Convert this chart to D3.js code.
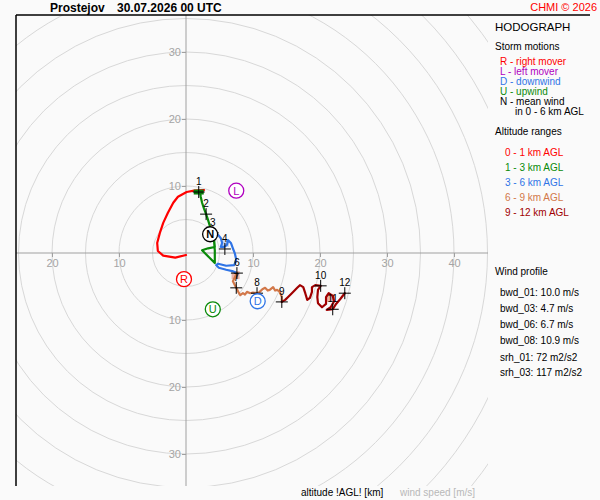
<!DOCTYPE html>
<html><head><meta charset="utf-8">
<script src="https://cdn.jsdelivr.net/npm/d3@7"></script>
<style>
html,body{margin:0;padding:0;background:#fafafa;}
svg{display:block;font-family:"Liberation Sans",Arial,sans-serif;}
</style></head>
<body>
<svg id="c" width="600" height="500"></svg>
<script>
// ---------- data (wind components u, v in m/s) ----------
const seg01 = [[0.0,-0.3],[-1.6,-0.7],[-3.4,-0.4],[-4.2,0.3],[-4.3,1.5],[-3.9,3.0],[-3.4,4.5],[-2.7,6.0],[-1.9,7.5],[-1.2,8.4],[0.1,9.1],[1.2,9.3],[2.7,9.4],[1.9,9.1]];
const seg13 = [[2.1,9.1],[2.2,8.4],[2.4,7.5],[2.7,6.6],[3.0,5.8],[3.3,4.9],[3.6,3.9],[3.9,2.8],[4.2,1.6],[4.3,0.4],[4.3,-0.6],[4.3,-1.5],[3.4,-0.6],[2.4,0.4],[3.3,0.7],[4.3,0.9],[4.2,1.9],[4.0,3.0]];
const seg36 = [[4.0,3.0],[4.8,2.7],[5.2,2.2],[5.4,1.5],[5.2,0.9],[5.7,0.9],[6.1,1.2],[6.3,1.9],[6.7,1.5],[7.0,0.7],[7.3,-0.1],[7.5,-1.0],[7.2,-1.8],[6.0,-1.9],[4.8,-1.6],[4.5,-1.8],[4.9,-2.2],[6.0,-2.5],[6.9,-2.7],[7.6,-3.0]];
const seg69 = [[7.6,-3.0],[7.3,-3.6],[7.0,-4.2],[7.3,-4.8],[7.5,-5.2],[7.8,-5.8],[8.1,-6.3],[8.5,-6.0],[8.8,-6.2],[9.1,-5.8],[9.6,-6.0],[10.0,-5.9],[10.6,-6.0],[11.0,-5.8],[11.4,-5.4],[11.8,-5.2],[12.2,-5.6],[12.5,-5.5],[13.0,-5.1],[13.3,-5.6],[13.6,-5.5],[14.0,-5.8],[14.3,-6.6],[14.3,-7.3]];
const seg912 = [[14.3,-7.3],[14.8,-7.0],[15.2,-6.6],[15.8,-6.0],[16.6,-5.2],[17.0,-4.8],[17.5,-5.1],[17.8,-6.0],[18.1,-7.0],[18.5,-6.7],[18.8,-5.8],[18.8,-5.1],[19.3,-4.8],[20.1,-4.9],[19.7,-5.5],[19.6,-6.6],[19.7,-7.5],[20.3,-8.1],[20.9,-7.6],[20.9,-6.6],[21.3,-6.0],[21.9,-6.4],[22.1,-7.2],[21.6,-8.1],[21.0,-8.5],[21.9,-8.4],[22.4,-7.6],[23.0,-6.9],[23.7,-6.0]];
const segColors = ["#ff0000","#0a8a0a","#2f74e6","#d2784a","#a00000"];

const kmLabels = ["1","2","3","4","6","7","8","9","10","11","12"];
const kmPoints = [[1.9,9.1],[3.0,5.8],[4.0,3.0],[5.8,0.6],[7.6,-3.0],[7.5,-5.2],[10.6,-6.0],[14.3,-7.3],[20.1,-4.9],[21.9,-8.4],[23.7,-6.0]];

const stormLetters = ["R","L","D","U","N"];
const stormPoints = [[-0.3,-3.9],[7.5,9.3],[10.7,-7.2],[4.0,-8.4],[3.6,2.8]];
const stormColors = ["#ff0000","#b000c0","#2f74e6","#0a8a0a","#000000"];

const spots = [[7.4,-3.3],[21.6,-6.7],[5.8,1.5]];
const spotColors = ["#eab4aa","#eab4aa","#c4d6f2"];

const ringValues = [5,10,15,20,25,30,35,40,45,50,55,60];
const xTicks = [-20,-10,10,20,30,40];
const yTicks = [30,20,10,-10,-20,-30];

const legendMotions = ["R - right mover","L - left mover","D - downwind","U - upwind","N - mean wind"];
const legendAlt = ["0 - 1 km AGL","1 - 3 km AGL","3 - 6 km AGL","6 - 9 km AGL","9 - 12 km AGL"];
const profileLabels = ["bwd_01: 10.0 m/s","bwd_03: 4.7 m/s","bwd_06: 6.7 m/s","bwd_08: 10.9 m/s"];
const srhLabels = ["srh_01: 72 m2/s2","srh_03: 117 m2/s2"];

// ---------- drawing ----------
const svg = d3.select("#c");
const x = d3.scaleLinear().domain([0,10]).range([186,253]);
const y = d3.scaleLinear().domain([0,10]).range([253,186]);
const PL=16, PT=15, PR=488, PB=486;

svg.append("rect").attr("width",600).attr("height",500).attr("fill","#fafafa");

svg.append("clipPath").attr("id","clip").append("rect")
  .attr("x",PL).attr("y",PT).attr("width",PR-PL).attr("height",PB-PT);

const plot = svg.append("g").attr("clip-path","url(#clip)");

plot.selectAll("circle.ring").data(ringValues).join("circle")
  .attr("class","ring").attr("cx",x(0)).attr("cy",y(0))
  .attr("r",d=>x(d)-x(0)).attr("fill","none").attr("stroke","#d8d8d8").attr("stroke-width",1);

// axes lines
plot.append("line").attr("x1",PL).attr("x2",PR).attr("y1",y(0)).attr("y2",y(0)).attr("stroke","#a0a0a0");
plot.append("line").attr("x1",x(0)).attr("x2",x(0)).attr("y1",PT).attr("y2",PB).attr("stroke","#a0a0a0");

const ax = svg.append("g").attr("transform",`translate(0,${y(0)})`)
  .call(d3.axisBottom(x).tickValues(xTicks).tickSize(4).tickPadding(2).tickFormat(d=>Math.abs(d)));
const ay = svg.append("g").attr("transform",`translate(${x(0)},0)`)
  .call(d3.axisLeft(y).tickValues(yTicks).tickSize(4).tickPadding(1).tickFormat(d=>Math.abs(d)));
[ax,ay].forEach(g=>{
  g.select(".domain").remove();
  g.selectAll("line").attr("stroke","#a0a0a0");
  g.selectAll("text").attr("fill","#a4a4a4").style("font-size","11px").style("font-family","Liberation Sans, Arial, sans-serif");
});

// frame
svg.append("line").attr("x1",PL).attr("x2",PL).attr("y1",PT).attr("y2",PB).attr("stroke","#000").attr("stroke-width",1.5);
svg.append("line").attr("x1",PL).attr("x2",590).attr("y1",PT).attr("y2",PT).attr("stroke","#000").attr("stroke-width",1.5);

// spots
plot.selectAll("rect.spot").data(spots).join("rect").attr("class","spot")
  .attr("x",d=>x(d[0])-4).attr("y",d=>y(d[1])-4).attr("width",8).attr("height",8)
  .attr("fill",(d,i)=>spotColors[i]);

// hodograph
const line = d3.line().x(d=>x(d[0])).y(d=>y(d[1])).curve(d3.curveLinear);
const segs = [seg01,seg13,seg36,seg69,seg912];
plot.selectAll("path.seg").data(segs).join("path").attr("class","seg")
  .attr("d",line).attr("fill","none").attr("stroke",(d,i)=>segColors[i])
  .attr("stroke-width",2.2).attr("stroke-linejoin","round").attr("stroke-linecap","round");

// km1 block
plot.append("rect").attr("x",x(kmPoints[0][0])-5).attr("y",y(kmPoints[0][1])-2.5)
  .attr("width",10).attr("height",5).attr("fill","#0a7a0a");

// km crosses
const kg = plot.selectAll("g.km").data(kmPoints).join("g").attr("class","km")
  .attr("transform",d=>`translate(${x(d[0])},${y(d[1])})`);
kg.append("path").attr("d","M-6,0H6M0,-6V6").attr("stroke","#000").attr("stroke-width",1);
kg.append("text").attr("y",-7).attr("text-anchor","middle").style("font-size","10px")
  .text((d,i)=>kmLabels[i]);

// storm markers
const sg = plot.selectAll("g.storm").data(stormPoints).join("g").attr("class","storm")
  .attr("transform",d=>`translate(${x(d[0])},${y(d[1])})`);
sg.append("circle").attr("r",7.5).attr("fill","#fff").attr("stroke",(d,i)=>stormColors[i]).attr("stroke-width",1.3);
sg.append("text").attr("text-anchor","middle").attr("dy","0.36em")
  .attr("fill",(d,i)=>stormColors[i]).style("font-size","11px").style("font-weight",(d,i)=>i===4?"bold":"normal")
  .text((d,i)=>stormLetters[i]);

// title
svg.append("text").attr("x",50).attr("y",12).style("font-size","12px").style("font-weight","bold").text("Prostejov");
svg.append("text").attr("x",117).attr("y",12).style("font-size","12px").style("font-weight","bold").text("30.07.2026 00 UTC");
svg.append("text").attr("x",597).attr("y",11).attr("text-anchor","end").attr("fill","#ff0000").style("font-size","11px").text("CHMI © 2026");

// legend
const L = svg.append("g").style("font-size","10px");
L.append("text").attr("x",495).attr("y",31).style("font-size","11.5px").text("HODOGRAPH");
L.append("text").attr("x",495).attr("y",50).text("Storm motions");
L.selectAll("text.m").data(legendMotions).join("text").attr("class","m")
  .attr("x",500).attr("y",(d,i)=>65+i*10).attr("fill",(d,i)=>stormColors[i]).text(d=>d);
L.append("text").attr("x",515).attr("y",115).text("in 0 - 6 km AGL");
L.append("text").attr("x",495).attr("y",135).text("Altitude ranges");
L.selectAll("text.a").data(legendAlt).join("text").attr("class","a")
  .attr("x",505).attr("y",(d,i)=>156+i*15).attr("fill",(d,i)=>segColors[i]).text(d=>d);
L.append("text").attr("x",495).attr("y",275).text("Wind profile");
L.selectAll("text.p").data(profileLabels).join("text").attr("class","p")
  .attr("x",500).attr("y",(d,i)=>296+i*16).text(d=>d);
L.selectAll("text.s").data(srhLabels).join("text").attr("class","s")
  .attr("x",500).attr("y",(d,i)=>361+i*15).text(d=>d);

svg.append("text").attr("x",301).attr("y",496).style("font-size","10px").text("altitude !AGL! [km]");
svg.append("text").attr("x",400).attr("y",496).attr("fill","#b8b8b8").style("font-size","10px").text("wind speed [m/s]");
</script>
</body></html>
